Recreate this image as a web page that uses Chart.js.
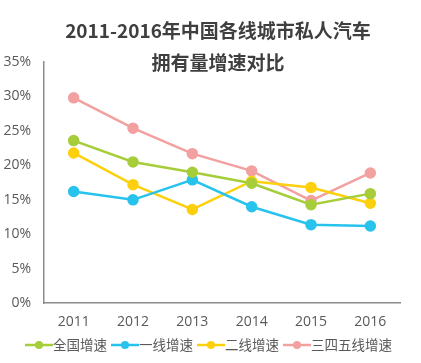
<!DOCTYPE html>
<html>
<head>
<meta charset="utf-8">
<script src="https://cdn.jsdelivr.net/npm/chart.js@4"></script>
<style>
  html, body { margin: 0; padding: 0; background: #fff; }
  #wrap { width: 421px; height: 363px; position: relative; }
</style>
</head>
<body>
<div id="wrap"><canvas id="canvas1"></canvas></div>
<script>
"use strict";

// data
let years = ["2011", "2012", "2013", "2014", "2015", "2016"];
let seriesNames = ["全国增速", "一线增速", "二线增速", "三四五线增速"];
let national = [23.6, 20.5, 19.0, 17.4, 14.3, 15.9];
let tier1 = [16.2, 15.0, 17.9, 14.0, 11.4, 11.2];
let tier2 = [21.8, 17.2, 13.6, 17.7, 16.8, 14.5];
let tier345 = [29.8, 25.4, 21.7, 19.2, 14.9, 18.9];
let titleLines = ["2011-2016年中国各线城市私人汽车", "拥有量增速对比"];

let colors = ["#a6cd3a", "#27c3ec", "#fdd00e", "#f3a0a0"];

// title + legend drawn by hand
let extrasPlugin = {
    id: "extras",
    afterDraw(chart) {
        let ctx = chart.ctx;
        ctx.save();
        ctx.fillStyle = "#3f3f3f";
        ctx.font = "bold 19px 'Noto Sans CJK SC'";
        ctx.textAlign = "center";
        ctx.textBaseline = "middle";
        ctx.fillText(titleLines[0], 218, 31);
        ctx.fillText(titleLines[1], 218, 63);

        // legend
        ctx.font = "13.5px 'Noto Sans CJK SC'";
        let markW = 28;
        let gap = 4;
        let widths = chart.data.datasets.map(ds => markW + ctx.measureText(ds.label).width);
        let total = widths.reduce((a, b) => a + b, 0) + gap * (widths.length - 1);
        let x = (chart.width - total) / 2 - 2;
        let y = 345;
        chart.data.datasets.forEach((ds, i) => {
            ctx.strokeStyle = colors[i];
            ctx.lineWidth = 2.5;
            ctx.beginPath();
            ctx.moveTo(x, y);
            ctx.lineTo(x + markW, y);
            ctx.stroke();
            ctx.fillStyle = colors[i];
            ctx.beginPath();
            ctx.arc(x + markW / 2, y, 4, 0, Math.PI * 2);
            ctx.fill();
            ctx.fillStyle = "#595959";
            ctx.textAlign = "left";
            ctx.fillText(ds.label, x + markW, y);
            x += widths[i] + gap;
        });
        ctx.restore();
    }
};

let allData = [national, tier1, tier2, tier345];
let datasets = allData.map((d, i) => ({
    label: seriesNames[i],
    data: d,
    borderColor: colors[i],
    backgroundColor: colors[i],
    borderWidth: 2.5,
    pointRadius: 4.5,
    pointHoverRadius: 4.5,
    tension: 0,
}));

let canvas1 = document.querySelector("#canvas1");
let opts = {
    type: "line",
    data: { labels: years, datasets: datasets },
    options: {
        responsive: true,
        maintainAspectRatio: false,
        animation: false,
        layout: { padding: { top: 62, right: 21, left: 0, bottom: 23 } },
        scales: {
            x: {
                offset: true,
                grid: { display: false, drawTicks: false },
                border: { display: true, color: "#8c8c8c", width: 1.5 },
                ticks: { color: "#595959", font: { family: "Open Sans", size: 14 }, padding: 10 },
            },
            y: {
                min: 0,
                max: 35,
                afterFit: s => { s.width = 44; },
                grid: { display: false, drawTicks: false },
                border: { display: true, color: "#8c8c8c", width: 1.5 },
                ticks: {
                    stepSize: 5,
                    color: "#595959",
                    font: { family: "Open Sans", size: 14 },
                    padding: 13,
                    callback: v => v + "%",
                },
            },
        },
        plugins: {
            title: { display: false },
            tooltip: { enabled: false },
            legend: { display: false },
        },
    },
    plugins: [extrasPlugin],
};

let chart1 = new Chart(canvas1, opts);
</script>
</body>
</html>
